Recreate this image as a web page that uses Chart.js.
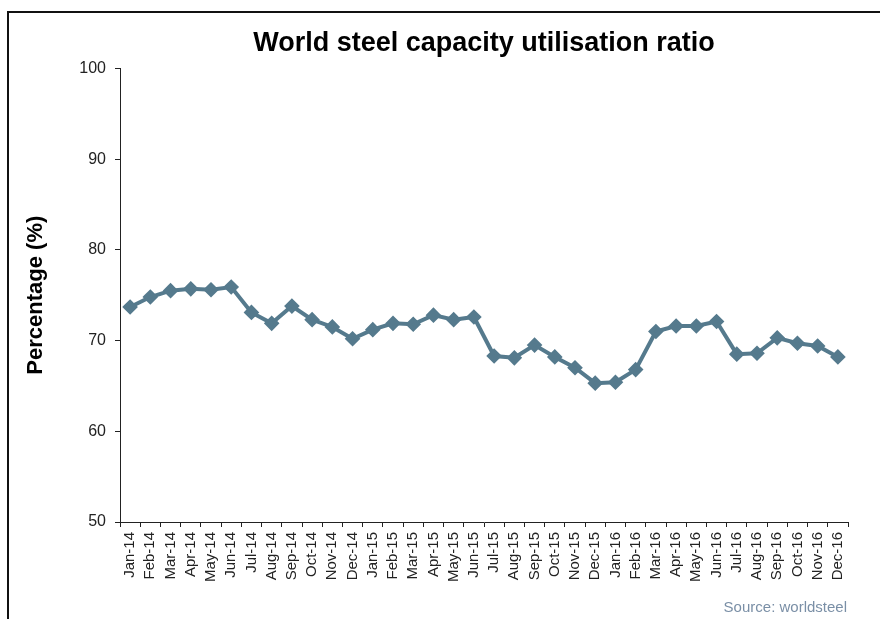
<!DOCTYPE html>
<html>
<head>
<meta charset="utf-8">
<script src="https://cdn.jsdelivr.net/npm/chart.js@4/dist/chart.umd.min.js"></script>
<style>
  html, body { margin: 0; padding: 0; background: #fff; }
  #wrap { position: relative; width: 880px; height: 619px; overflow: hidden; }
  #frame { position: absolute; left: 7px; top: 11px; width: 900px; height: 700px; border: 2px solid #111; }
  canvas { position: absolute; left: 0; top: 0; }
</style>
</head>
<body>
<div id="wrap">
  <div id="frame"></div>
  <canvas id="steelChart" width="880" height="619"></canvas>
</div>
<script>
'use strict';

const months = [
    'Jan-14', 'Feb-14', 'Mar-14', 'Apr-14', 'May-14', 'Jun-14', 'Jul-14', 'Aug-14', 'Sep-14', 'Oct-14', 'Nov-14', 'Dec-14',
    'Jan-15', 'Feb-15', 'Mar-15', 'Apr-15', 'May-15', 'Jun-15', 'Jul-15', 'Aug-15', 'Sep-15', 'Oct-15', 'Nov-15', 'Dec-15',
    'Jan-16', 'Feb-16', 'Mar-16', 'Apr-16', 'May-16', 'Jun-16', 'Jul-16', 'Aug-16', 'Sep-16', 'Oct-16', 'Nov-16', 'Dec-16'
];
const utilisation = [
    73.7, 74.8, 75.5, 75.7, 75.6, 75.9, 73.1, 71.9, 73.8, 72.3, 71.5, 70.2,
    71.2, 71.9, 71.8, 72.8, 72.3, 72.6, 68.3, 68.1, 69.5, 68.2, 67.0, 65.3,
    65.4, 66.8, 71.0, 71.6, 71.6, 72.1, 68.5, 68.6, 70.3, 69.7, 69.4, 68.2
];
const yTicks = [50, 60, 70, 80, 90, 100];

const FONT = 'Liberation Sans, Arial, sans-serif';
const lineColor = '#557a8d';

// "Source: worldsteel" under the plot
const sourceNote = {
    id: 'sourceNote',
    afterDraw(chart) {
        const ctx = chart.ctx;
        ctx.save();
        ctx.font = '15px ' + FONT;
        ctx.fillStyle = '#7a8fa6';
        ctx.textAlign = 'right';
        ctx.textBaseline = 'middle';
        ctx.fillText('Source: worldsteel', 847, 608);
        ctx.restore();
    }
};

const ctx = document.getElementById('steelChart').getContext('2d');
new Chart(ctx, {
    type: 'line',
    data: {
        labels: months,
        datasets: [{
            label: 'Capacity utilisation',
            data: utilisation,
            borderColor: lineColor,
            backgroundColor: lineColor,
            borderWidth: 4,
            pointStyle: 'rectRot',
            pointRadius: 5,
            pointBackgroundColor: lineColor,
            pointBorderColor: lineColor,
            tension: 0
        }]
    },
    options: {
        responsive: false,
        animation: false,
        layout: {
            padding: { top: 27, left: 10, right: 32, bottom: 7 }
        },
        plugins: {
            legend: { display: false },
            tooltip: { enabled: false },
            title: {
                display: true,
                fullSize: false,
                text: 'World steel capacity utilisation ratio',
                color: '#000',
                font: { family: FONT, size: 27, weight: 'bold', lineHeight: 1.2 },
                padding: { top: 0, bottom: 9 }
            }
        },
        scales: {
            x: {
                offset: true,
                grid: {
                    offset: true,
                    drawOnChartArea: false,
                    color: '#222',
                    tickLength: 5
                },
                border: { color: '#222', width: 1 },
                ticks: {
                    autoSkip: false,
                    minRotation: 90,
                    maxRotation: 90,
                    color: '#222',
                    padding: 5,
                    font: { family: FONT, size: 15 }
                },
                afterFit(scale) { scale.height = 90; }
            },
            y: {
                min: 50,
                max: 100,
                afterBuildTicks(scale) {
                    scale.ticks = yTicks.map(v => ({ value: v }));
                },
                grid: {
                    drawOnChartArea: false,
                    color: '#222',
                    tickLength: 5
                },
                border: { color: '#222', width: 1 },
                ticks: {
                    color: '#222',
                    padding: 9,
                    font: { family: FONT, size: 16 }
                },
                title: {
                    display: true,
                    text: 'Percentage (%)',
                    color: '#000',
                    font: { family: FONT, size: 22, weight: 'bold' },
                    padding: { top: 13, bottom: 0 }
                },
                afterFit(scale) { scale.width = 110; }
            }
        }
    },
    plugins: [sourceNote]
});
</script>
</body>
</html>
